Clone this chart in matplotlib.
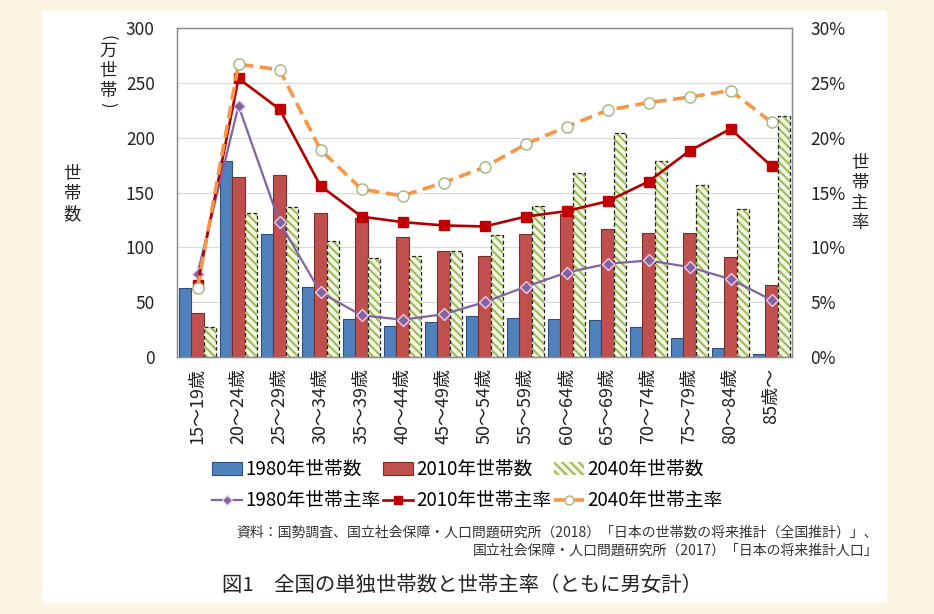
import matplotlib
matplotlib.use('Agg')
import matplotlib.pyplot as plt
from matplotlib.patches import Rectangle, Patch
import numpy as np

plt.rcParams['font.family'] = ['Noto Sans CJK JP', 'DejaVu Sans']
plt.rcParams['hatch.linewidth'] = 1.5

# data
ages = ['15～19歳', '20～24歳', '25～29歳', '30～34歳', '35～39歳', '40～44歳',
        '45～49歳', '50～54歳', '55～59歳', '60～64歳', '65～69歳', '70～74歳',
        '75～79歳', '80～84歳', '85歳～']
hh_1980 = [63, 179, 112, 64, 35, 28, 32, 37, 36, 35, 34, 27, 17, 8, 3]
hh_2010 = [40, 164, 166, 131, 127, 109, 97, 92, 112, 130, 117, 113, 113, 91, 66]
hh_2040 = [27, 131, 137, 106, 90, 92, 97, 111, 138, 168, 204, 179, 157, 135, 220]
rate_1980 = [7.6, 22.9, 12.3, 5.9, 3.8, 3.4, 3.9, 5.0, 6.4, 7.7, 8.5, 8.8, 8.2, 7.1, 5.2]
rate_2010 = [6.6, 25.4, 22.6, 15.6, 12.8, 12.3, 12.0, 11.9, 12.8, 13.3, 14.2, 16.0, 18.8, 20.8, 17.4]
rate_2040 = [6.3, 26.7, 26.2, 18.9, 15.3, 14.7, 15.9, 17.3, 19.4, 21.0, 22.5, 23.2, 23.7, 24.3, 21.4]

hh_ticks = [0, 50, 100, 150, 200, 250, 300]
rate_ticks = [0, 5, 10, 15, 20, 25, 30]

source1 = '資料：国勢調査、国立社会保障・人口問題研究所（2018）「日本の世帯数の将来推計（全国推計）」、'
source2 = '国立社会保障・人口問題研究所（2017）「日本の将来推計人口」'
title = '図1　全国の単独世帯数と世帯主率（ともに男女計）'

W, H = 934, 614


def fx(px):
    return px / W


def fy(py):
    return 1 - py / H


fig = plt.figure(figsize=(W / 100, H / 100), dpi=100, facecolor='#fdf5e4')
fig.add_artist(Rectangle((fx(42), fy(603)), fx(887) - fx(42), fy(11) - fy(603),
                         transform=fig.transFigure, facecolor='white',
                         edgecolor='none', zorder=0))

ax = fig.add_axes([fx(177), fy(357), fx(792) - fx(177), fy(28) - fy(357)])
x = np.arange(len(ages))
w = 0.3
b1 = ax.bar(x - w, hh_1980, w, color='#4f81bd', edgecolor='#2f4f78', linewidth=0.8)
b2 = ax.bar(x, hh_2010, w, color='#c0504d', edgecolor='#7a2e2c', linewidth=0.8)
ax.bar(x + w, hh_2040, w, color='#f3f6e2', edgecolor='#9bbb59', hatch='\\\\\\\\', linewidth=0)
ax.bar(x + w, hh_2040, w, fill=False, edgecolor='#222222', linestyle=(0, (3, 2)), linewidth=0.9)

ax.set_xlim(-0.5, len(ages) - 0.5)
ax.set_ylim(0, 300)
ax.set_yticks(hh_ticks)
ax.set_xticks(x)
ax.set_xticklabels(ages, rotation=90)
ax.yaxis.grid(True, color='#dcdcdc', linewidth=0.9)
ax.set_axisbelow(True)
ax.tick_params(axis='y', length=0, pad=16, labelsize=12.5, labelcolor='#222222')
ax.tick_params(axis='x', length=0, pad=8, labelsize=13, labelcolor='#222222')
for s in ax.spines.values():
    s.set_color('#8c8c8c')
    s.set_linewidth(1)

ax2 = ax.twinx()
ax2.set_ylim(0, 30)
ax2.set_yticks(rate_ticks)
ax2.set_yticklabels([f'{v}%' for v in rate_ticks])
ax2.tick_params(axis='y', length=0, pad=13, labelsize=12.5, labelcolor='#222222')
for s in ax2.spines.values():
    s.set_color('#8c8c8c')

l1, = ax2.plot(x, rate_1980, color='#8064a2', lw=1.6, marker='D', ms=6,
               mfc='#8064a2', mec='#f2c9e8', mew=1.0)
l2, = ax2.plot(x, rate_2010, color='#b00000', lw=1.9, marker='s', ms=6.5,
               mfc='#c00000', mec='#c00000')
l3, = ax2.plot(x, rate_2040, color='#f79646', lw=2.6, ls=(0, (3.5, 1.8)), marker='o', ms=8,
               mfc='white', mec='#a9b985', mew=1.1)

p3 = Patch(facecolor='#f3f6e2', edgecolor='#9bbb59', hatch='\\\\\\\\', linewidth=0)
handles = [b1, l1, b2, l2, p3, l3]
labels = ['1980年世帯数', '1980年世帯主率', '2010年世帯数', '2010年世帯主率',
          '2040年世帯数', '2040年世帯主率']
fig.legend(handles, labels, ncol=3, loc='upper left', bbox_to_anchor=(fx(212), fy(459)),
           frameon=False, fontsize=13.5, handlelength=1.6, handletextpad=0.2,
           columnspacing=0.1, labelspacing=0.55, borderpad=0, borderaxespad=0,
           markerscale=0.8)

# axis titles, stacked vertically like the original
fig.text(fx(72), fy(194), '世\n帯\n数', ha='center', va='center', fontsize=12.5,
         linespacing=1.15, color='#222222')
fig.text(fx(860), fy(193), '世\n帯\n主\n率', ha='center', va='center', fontsize=12.5,
         linespacing=1.15, color='#222222')
fig.text(fx(108), fy(38), '(', rotation=-90, ha='center', va='center', fontsize=12, color='#222222')
fig.text(fx(108), fy(71), '万\n世\n帯', ha='center', va='center', fontsize=12.5,
         linespacing=1.15, color='#222222')
fig.text(fx(108), fy(105), ')', rotation=-90, ha='center', va='center', fontsize=12, color='#222222')

fig.text(fx(878), fy(533), source1, ha='right', va='center', fontsize=10, color='#333333')
fig.text(fx(878), fy(551), source2, ha='right', va='center', fontsize=10, color='#333333')
fig.text(fx(222), fy(585), title, ha='left', va='center', fontsize=14.7, color='#222222')

fig.savefig('out.png', dpi=100, facecolor=fig.get_facecolor())
